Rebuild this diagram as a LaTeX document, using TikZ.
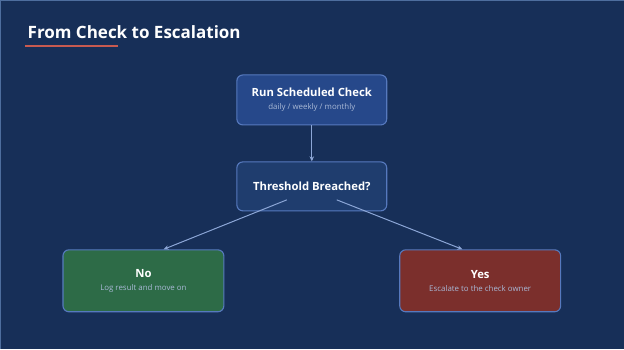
\documentclass[tikz,border=0pt]{standalone}
\usepackage{fontspec}
\setmainfont{Open Sans}
\usetikzlibrary{calc, arrows.meta}

\definecolor{slidebg}{HTML}{172F58}
\definecolor{slideedge}{HTML}{4E6E9E}
\definecolor{boxedge}{HTML}{5679BE}
\definecolor{stepfill}{HTML}{26488A}
\definecolor{askfill}{HTML}{1F3D6E}
\definecolor{nofill}{HTML}{2D6B47}
\definecolor{yesfill}{HTML}{7B2F2C}
\definecolor{subtext}{HTML}{A9B9D6}
\definecolor{linkcol}{HTML}{8CA6D6}
\definecolor{accent}{HTML}{C85A50}

\newcommand{\boxtext}[2]{{\bfseries\fontsize{11.3}{13}\selectfont #1}\\[1pt]{\color{subtext}\fontsize{7.9}{9}\selectfont #2}}

\begin{document}
\begin{tikzpicture}[
  x=1pt, y=-1pt,
  card/.style={draw=boxedge, line width=1.1pt, rounded corners=6pt, text=white, align=center, inner sep=0},
  stepbox/.style={card, fill=stepfill, minimum width=150pt, minimum height=50pt},
  askbox/.style={card, fill=askfill, minimum width=150pt, minimum height=49pt},
  outbox/.style={card, minimum width=161pt, minimum height=62pt},
  link/.style={draw=linkcol, line width=1pt, -{Stealth[length=5pt, width=4.5pt]}}
]
% slide
\fill[slidebg] (0,0) rectangle (624,349);
\draw[slideedge, line width=0.8pt] (0.4,349) -- (0.4,0.4) -- (624,0.4);
\useasboundingbox (0,0) rectangle (624,349);

% title
\node[anchor=west, text=white, font=\bfseries\fontsize{17}{20}\selectfont, inner sep=0] (title) at (27.5,32) {From Check to Escalation};
\draw[accent, line width=2.6pt] (25,46) -- (118,46);

% steps
\node[stepbox] (check) at (312,100) {\boxtext{Run Scheduled Check}{daily / weekly / monthly}};
\node[askbox] (ask) at (312,186.5) {\bfseries\fontsize{11.3}{13}\selectfont Threshold Breached?};
\node[outbox, fill=nofill] (no) at (143.5,281) {\boxtext{No}{Log result and move on}};
\node[outbox, fill=yesfill] (yes) at (480.5,281) {\boxtext{Yes}{Escalate to the check owner}};

% links
\coordinate (askl) at (287,200);
\coordinate (askr) at (337,200);
\draw[link] (check) -- (ask);
\draw[link] (askl) -- ($(no.north)!0.25!(no.north east)$);
\draw[link] (askr) -- ($(yes.north)!0.22!(yes.north west)$);
\end{tikzpicture}
\end{document}
